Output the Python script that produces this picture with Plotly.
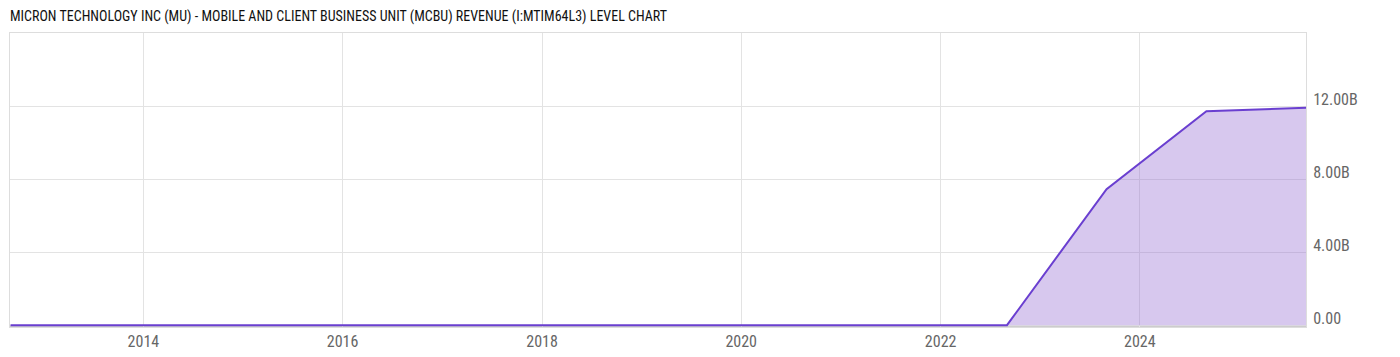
import plotly.graph_objects as go

title = "MICRON TECHNOLOGY INC (MU) - MOBILE AND CLIENT BUSINESS UNIT (MCBU) REVENUE (I:MTIM64L3) LEVEL CHART"

dates = ["2012-09-01", "2013-09-01", "2014-09-01", "2015-09-01", "2016-09-01",
         "2017-09-01", "2018-09-01", "2019-09-01", "2020-09-01", "2021-09-01",
         "2022-09-01", "2023-09-01", "2024-09-01", "2025-09-01"]
revenue = [0, 0, 0, 0, 0, 0, 0, 0, 0, 0, 0, 7.45e9, 11.72e9, 11.9e9]

x_tick_vals = ["2014-01-01", "2016-01-01", "2018-01-01", "2020-01-01", "2022-01-01", "2024-01-01"]
x_tick_text = ["2014", "2016", "2018", "2020", "2022", "2024"]
y_tick_vals = [0, 4e9, 8e9, 12e9]
y_tick_text = ["0.00", "4.00B", "8.00B", "12.00B"]

FONT = "Liberation Sans Narrow, Roboto Condensed, Roboto, sans-serif"

fig = go.Figure()
fig.add_trace(go.Scatter(
    x=dates, y=revenue, mode="lines",
    line=dict(color="#6a3fd0", width=2),
    fill="tozeroy", fillcolor="rgba(150,110,210,0.38)",
    hoverinfo="x+y",
))

fig.update_layout(
    width=1400, height=357,
    margin=dict(l=10, r=94, t=33, b=30),
    paper_bgcolor="white", plot_bgcolor="white",
    showlegend=False,
    font=dict(family=FONT, size=16, color="#666666"),
    xaxis=dict(
        type="date",
        range=["2012-08-30", "2025-09-01"],
        tickvals=x_tick_vals, ticktext=x_tick_text,
        showgrid=True, gridcolor="#e3e3e3", gridwidth=1,
        showline=True, linecolor="#dddddd", linewidth=1, mirror=True,
        ticks="", zeroline=False, automargin=False,
        tickfont=dict(family=FONT, size=16, color="#666666"),
    ),
    yaxis=dict(
        side="right",
        range=[-0.1e9, 16e9],
        tickvals=y_tick_vals, ticktext=y_tick_text,
        ticklabelposition="outside", ticklabelshift=-7,
        showgrid=True, gridcolor="#e3e3e3", gridwidth=1,
        showline=True, linecolor="#dddddd", linewidth=1, mirror=True,
        ticks="outside", ticklen=3, tickcolor="rgba(0,0,0,0)",
        zeroline=False, automargin=False,
        tickfont=dict(family=FONT, size=16, color="#666666"),
    ),
    annotations=[dict(
        text=title, xref="paper", yref="paper", x=-0.0015, y=1.0,
        xanchor="left", yanchor="bottom", yshift=6, showarrow=False,
        font=dict(family=FONT, size=14, color="#111111"),
    )],
    shapes=[dict(
        type="line", xref="paper", yref="paper", x0=0, x1=1, y0=0, y1=0,
        layer="below",
        line=dict(color="#cccccc", width=2),
    )],
)

fig.write_html("out.html")
